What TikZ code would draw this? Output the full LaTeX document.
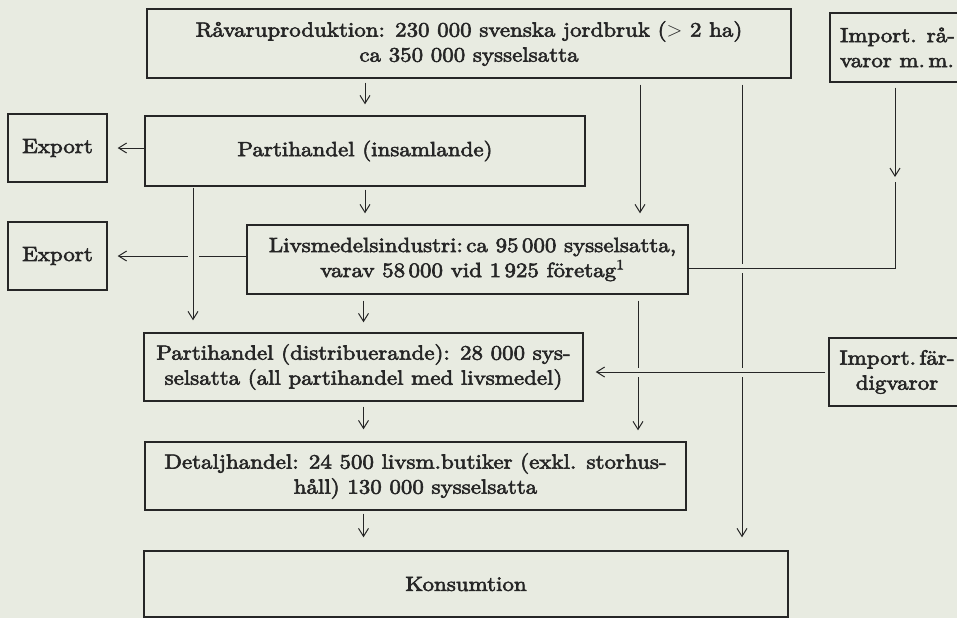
\documentclass[tikz,border=0pt]{standalone}
\usepackage{fontspec}
\setmainfont{lmroman10-regular}[Extension=.otf, FakeStretch=1.12, FakeBold=3]
\usetikzlibrary{arrows.meta}
\definecolor{bg}{HTML}{E8EBE1}
\definecolor{ink}{HTML}{262626}
\pgfdeclarelayer{background}
\pgfsetlayers{background,main}
\tikzset{
  box/.style={draw=ink, line width=1.4pt, inner sep=0pt, align=center, text=ink,
    font=\fontsize{20.5}{25}\selectfont},
  con/.style={draw=ink, line width=1pt},
  arr/.style={con, -{Straight Barb[length=8pt,width=10pt]}},
  gapper/.style={draw=bg, line width=9pt},
}
\begin{document}
\begin{tikzpicture}[x=1pt,y=-1pt]
\useasboundingbox (0,0) rectangle (957,618);
% boxes
\node[box, minimum width=644pt, minimum height=69pt] (rav) at (469,43.5)
  {Råvaruproduktion: 230 000 svenska jordbruk ($>$ 2 ha)\\ca 350 000 sysselsatta};
\node[box, minimum width=135pt, minimum height=69pt, align=left] (imp1) at (897.5,47.5)
  {Import. rå-\\varor m.\,m.};
\node[box, minimum width=99pt, minimum height=68pt] (exp1) at (57.5,148) {Export};
\node[box, minimum width=440pt, minimum height=70pt] (pi) at (365,151)
  {Partihandel (insamlande)};
\node[box, minimum width=99pt, minimum height=68pt] (exp2) at (57.5,256) {Export};
\node[box, minimum width=441pt, minimum height=69pt] (livs) at (467.5,259.5)
  {\hspace*{10pt}Livsmedelsindustri:\,ca 95\,000 sysselsatta,\\\hspace*{10pt}varav 58\,000 vid 1\,925 företag\textsuperscript{1}};
\node[box, minimum width=439pt, minimum height=68pt] (pd) at (363.5,367)
  {Partihandel (distribuerande): 28 000 sys-\\selsatta (all partihandel med livsmedel)};
\node[box, minimum width=136pt, minimum height=68pt] (imp2) at (897,372)
  {Import.\,fär-\\digvaror};
\node[box, minimum width=541pt, minimum height=68pt] (det) at (415.5,476)
  {Detaljhandel: 24 500 livsm.butiker (exkl. storhus-\\håll) 130 000 sysselsatta};
\node[box, minimum width=644pt, minimum height=66pt] (kons) at (466,584) {Konsumtion};
% helper coordinates
\coordinate (xa) at (193,0);
\coordinate (xb) at (640,0);
\coordinate (xc) at (742,0);
\coordinate (xe) at (638,0);
\coordinate (m1) at (895,177);
\coordinate (m2) at (895,182);
\coordinate (c1) at (895,268);
\begin{pgfonlayer}{background}
\fill[bg] (0,0) rectangle (957,618);
% central chain
\draw[arr, shorten <=4pt, shorten >=11pt] (rav.south -| pi.north) -- (pi.north);
\draw[arr, shorten >=10pt] (pi.west |- exp1.east) -- (exp1.east);
\draw[arr, shorten <=3pt, shorten >=11pt] (pi.south) -- (pi.south |- livs.north);
\draw[arr, shorten >=10pt] (livs.west |- exp2.east) -- (exp2.east);
\draw[gapper, line width=11pt] (pi.south -| xa) -- (pd.north -| xa);
\draw[arr, shorten <=1pt, shorten >=12pt] (pi.south -| xa) -- (pd.north -| xa);
\draw[arr, shorten <=6pt, shorten >=10pt] (livs.south -| pd.north) -- (pd.north);
\draw[arr, shorten <=5pt, shorten >=12pt] (pd.south) -- (pd.south |- det.north);
\draw[arr, shorten <=3pt, shorten >=13pt] (det.south -| pd.south) -- (kons.north -| pd.south);
% right side verticals
\draw[arr, shorten <=6pt, shorten >=11pt] (rav.south -| xb) -- (livs.north -| xb);
\draw[arr, shorten <=6pt, shorten >=13pt] (rav.south -| xc) -- (kons.north -| xc);
\draw[arr, shorten <=6pt, shorten >=11pt] (livs.south -| xe) -- (det.north -| xe);
% import raw materials into industry
\draw[arr, shorten <=5pt] (imp1.south -| m1) -- (m1);
\draw[gapper] (c1) -- (c1 -| livs.east);
\draw[con] (m2) -- (c1) -- (c1 -| livs.east);
% import finished goods into wholesale
\draw[gapper] (imp2.west) -- ([xshift=-5pt]imp2.west -| xe);
\draw[arr, shorten <=3pt, shorten >=12pt] (imp2.west) -- (imp2.west -| pd.east);
\end{pgfonlayer}
\end{tikzpicture}
\end{document}
